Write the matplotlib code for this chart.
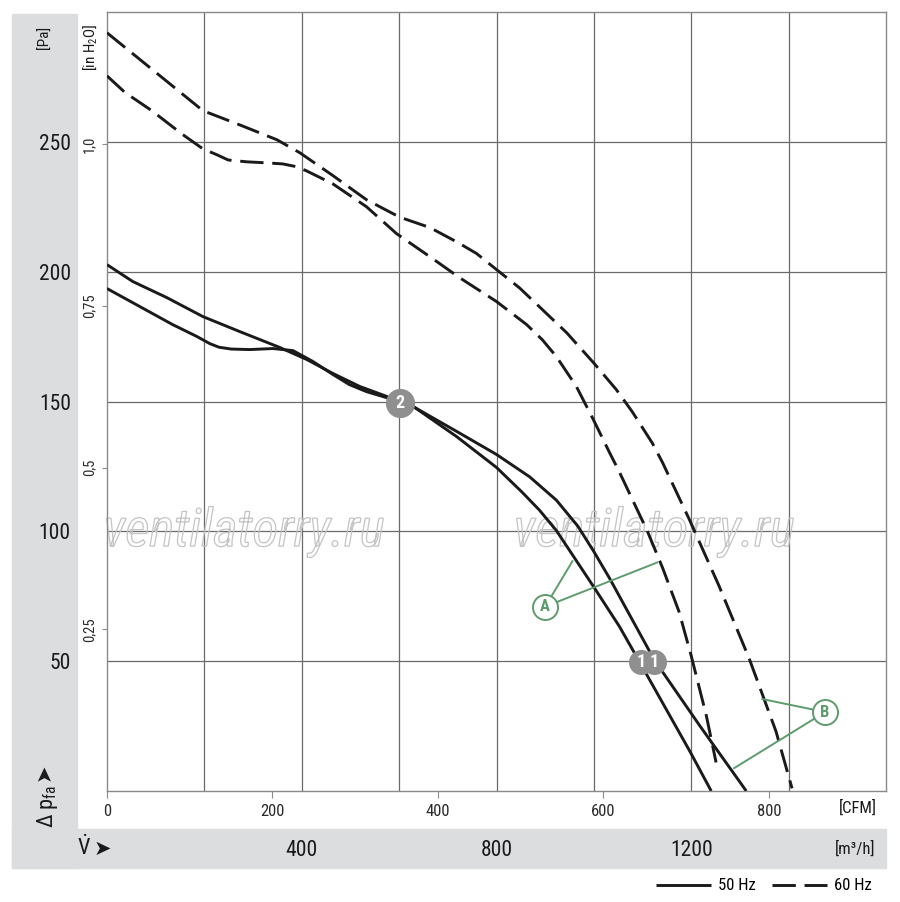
import matplotlib
matplotlib.use("Agg")
import matplotlib.pyplot as plt
from matplotlib import font_manager
from matplotlib.patches import Rectangle, PathPatch
from matplotlib.textpath import TextPath
from matplotlib.font_manager import FontProperties
import matplotlib.transforms as mtransforms

# --- Kennlinien (m³/h -> Pa) ---
q_50a = [0, 68, 135, 185, 211, 230, 255, 293, 341, 382, 423, 464, 498, 533, 574, 601, 632, 718, 800,
         853, 888, 923, 999, 1052, 1093, 1198, 1241]
p_50a = [193.5, 186.5, 179.6, 175, 172.3, 170.9, 170.2, 170, 170.4, 169.6, 165.4, 160.4, 156.5, 153.8,
         151.5, 149.6, 147.7, 136.5, 124.6, 115, 108.2, 100.3, 78.8, 63.5, 50, 15, 0]

q_50b = [0, 53, 123, 197, 273, 355, 410, 464, 519, 574, 601, 632, 718, 800, 868, 923, 967, 999,
         1032, 1124, 1218, 1313]
p_50b = [202.7, 196.2, 190, 182.7, 176.9, 170.8, 166.2, 160.8, 155.8, 152, 149.6, 147.7, 138.5,
         129.6, 121, 112, 102, 92.5, 82, 50.5, 25, 0]

q_60a = [0, 37, 92, 154, 197, 226, 249, 287, 328, 361, 390, 410, 464, 533, 595, 669, 724, 800, 862,
         894, 923, 964, 999, 1032, 1052, 1110, 1141, 1175, 1200, 1231, 1251]
p_60a = [275.4, 269, 262, 253, 247.3, 245, 243, 242.3, 241.9, 241.5, 240.4, 238.8, 233.8, 225,
         214.6, 205, 197.7, 188.5, 179.6, 173.8, 167.3, 155.8, 143, 130.4, 123, 100, 86, 69, 52, 29, 11]

q_60b = [0, 197, 273, 349, 396, 464, 533, 601, 663, 718, 759, 800, 847, 888, 944, 999, 1046, 1079,
         1120, 1141, 1196, 1257, 1319, 1374, 1407]
p_60b = [292, 262, 256.5, 250.8, 245.8, 237, 227.7, 221, 217, 211.5, 207, 200.8, 193.8, 186.5,
         176.5, 165, 154.6, 146, 134, 126.5, 104.6, 79, 51, 23, 1]

# Betriebspunkte
op2 = (601, 149.6)
op1_q = [1097, 1124]
op1_p = [49.6, 49.6]

# Kennzeichnung A / B: Kreis und Zielpunkte
lab_a = (900, 71)
lab_a_targets = [(956, 88.5), (1130, 88)]
lab_b = (1475, 30.4)
lab_b_targets = [(1346, 35.4), (1288, 8.8)]

# Achsen
pa_ticks = [50, 100, 150, 200, 250]
q_ticks = [400, 800, 1200]
q_grid = [200, 400, 600, 800, 1000, 1200, 1400]
cfm_ticks = [0, 200, 400, 600, 800]
inh2o_ticks = [0.25, 0.5, 0.75, 1.0]
inh2o_labels = ["0,25", "0,5", "0,75", "1,0"]

# schmale Schrift suchen
names = {f.name for f in font_manager.fontManager.ttflist}
cond = "DejaVu Sans"
for cand in ["Roboto Condensed", "Liberation Sans Narrow", "Arial Narrow", "Archivo Narrow",
             "PT Sans Narrow", "Fira Sans Condensed", "Barlow Condensed", "IBM Plex Sans Condensed",
             "Open Sans Condensed", "Encode Sans Condensed"]:
    if cand in names:
        cond = cand
        break
plt.rcParams["font.family"] = [cond, "DejaVu Sans"]
plt.rcParams["mathtext.fontset"] = "custom"
plt.rcParams["mathtext.rm"] = cond
plt.rcParams["mathtext.it"] = cond + ":italic"
plt.rcParams["mathtext.bf"] = cond + ":bold"

W, H = 900, 902
fig = plt.figure(figsize=(W / 100, H / 100), dpi=100)


def fx(x):
    return x / W


def fy(y):
    return 1 - y / H


# graue Randstreifen
band = "#dcdddf"
fig.patches.append(Rectangle((fx(12), fy(868)), fx(77) - fx(12), fy(14) - fy(868),
                             transform=fig.transFigure, color=band, zorder=-10))
fig.patches.append(Rectangle((fx(12), fy(868)), fx(886) - fx(12), fy(829) - fy(868),
                             transform=fig.transFigure, color=band, zorder=-10))

ax = fig.add_axes([fx(107), fy(791), fx(886) - fx(107), fy(12) - fy(791)])
ax.set_xlim(0, 1600)
ax.set_ylim(0, 300)
for s in ax.spines.values():
    s.set_color("#8a8a8a")
    s.set_linewidth(1.0)

grid_col = "#6a6a6a"
for q in q_grid:
    ax.axvline(q, color=grid_col, lw=0.9, zorder=1)
for p in pa_ticks:
    ax.axhline(p, color=grid_col, lw=0.9, zorder=1)

# Pa-Skala im grauen Streifen
ax.set_yticks(pa_ticks)
ax.set_yticklabels([str(v) for v in pa_ticks])
ax.tick_params(axis="y", length=0, pad=26, labelsize=15.5, labelcolor="#1a1a1a")
# m³/h-Skala im unteren Streifen
ax.set_xticks(q_ticks)
ax.set_xticklabels([str(v) for v in q_ticks])
ax.tick_params(axis="x", length=0, pad=35, labelsize=15.5, labelcolor="#1a1a1a")

# in H2O
secy = ax.secondary_yaxis("left", functions=(lambda p: p / 249.089, lambda h: h * 249.089))
secy.set_yticks(inh2o_ticks)
secy.set_yticklabels(inh2o_labels)
secy.tick_params(axis="y", length=3.5, width=0.8, color="#8a8a8a", pad=4, labelsize=10.5,
                 labelcolor="#2a2a2a")
for t in secy.get_yticklabels():
    t.set_rotation(90)
    t.set_va("center")
secy.spines["left"].set_visible(False)

# CFM
secx = ax.secondary_xaxis("bottom", functions=(lambda q: q * 0.588578, lambda c: c / 0.588578))
secx.set_xticks(cfm_ticks)
secx.set_xticklabels([str(v) for v in cfm_ticks])
secx.tick_params(axis="x", length=5, width=0.8, color="#8a8a8a", pad=4, labelsize=12,
                 labelcolor="#2a2a2a")
secx.spines["bottom"].set_visible(False)

# Wasserzeichen (nur Kontur)
wm_prop = FontProperties(family=cond, style="italic", size=38)
for cx in [245, 655]:
    tp = TextPath((0, 0), "ventilatorry.ru", prop=wm_prop)
    ext = tp.get_extents()
    tr = (mtransforms.Affine2D()
          .translate(-(ext.x0 + ext.x1) / 2, -(ext.y0 + ext.y1) / 2)
          .scale(1 / 72)
          .translate(cx / 100, (H - 532) / 100)
          + fig.dpi_scale_trans)
    ax.add_patch(PathPatch(tp, transform=tr, facecolor="none", edgecolor="#c4c4c4",
                           lw=0.9, zorder=2, clip_on=False))

# Kurven
lw = 2.1
dash = (8, 3)
l50, = ax.plot(q_50a, p_50a, color="#1a1a1a", lw=lw, zorder=3, solid_capstyle="butt",
               solid_joinstyle="round")
ax.plot(q_50b, p_50b, color="#1a1a1a", lw=lw, zorder=3, solid_capstyle="butt",
        solid_joinstyle="round")
l60, = ax.plot(q_60a, p_60a, color="#1a1a1a", lw=lw, dashes=dash, zorder=3)
ax.plot(q_60b, p_60b, color="#1a1a1a", lw=lw, dashes=dash, zorder=3)

# Betriebspunkte
mark = "#8f8f8f"
ax.plot([op2[0]], [op2[1]], "o", ms=20, color=mark, mec=mark, zorder=5)
ax.text(op2[0], op2[1], "2", color="white", fontsize=13, fontweight="bold",
        ha="center", va="center", zorder=6)
ax.plot(op1_q, op1_p, "o", ms=17, color=mark, mec=mark, zorder=5, ls="none")
for q, p in zip(op1_q, op1_p):
    ax.text(q, p, "1", color="white", fontsize=13, fontweight="bold",
            ha="center", va="center", zorder=6)

# A / B
green = "#5d9c6c"
for (cq, cp), targets, txt in [(lab_a, lab_a_targets, "A"), (lab_b, lab_b_targets, "B")]:
    for tq, tp in targets:
        ax.plot([cq, tq], [cp, tp], color=green, lw=1.4, zorder=4)
    ax.plot([cq], [cp], "o", ms=18, mfc="white", mec=green, mew=1.4, zorder=5)
    ax.text(cq, cp, txt, color=green, fontsize=12, fontweight="bold",
            ha="center", va="center", zorder=6)

# Beschriftungen
txt_col = "#1a1a1a"
fig.text(fx(45), fy(37), "[Pa]", rotation=90, ha="center", va="center", fontsize=11, color=txt_col)
fig.text(fx(90), fy(47), "[in H$_2$O]", rotation=90, ha="center", va="center", fontsize=11,
         color=txt_col)
fig.text(fx(47), fy(806), "Δ p$_{\\rm fa}$", rotation=90, ha="center", va="center",
         fontsize=16, color=txt_col)
fig.text(fx(44), fy(772), "➤", rotation=90, ha="center", va="center",
         fontsize=15, color=txt_col, family="DejaVu Sans")
fig.text(fx(84), fy(848), "$\\dot{\\rm V}$", ha="center", va="center", fontsize=16, color=txt_col)
fig.text(fx(102), fy(849), "➤", ha="center", va="center", fontsize=15, color=txt_col,
         family="DejaVu Sans")
fig.text(fx(858), fy(808), "[CFM]", ha="center", va="center", fontsize=12, color=txt_col)
fig.text(fx(855), fy(849), "[m³/h]", ha="center", va="center", fontsize=12, color=txt_col)

fig.legend([l50, l60], ["50 Hz", "60 Hz"], loc="center right",
           bbox_to_anchor=(fx(880), fy(886)), ncol=2, frameon=False, fontsize=12,
           handlelength=3.3, handletextpad=0.4, columnspacing=1.0, borderpad=0)

fig.savefig("out.png", dpi=100)
